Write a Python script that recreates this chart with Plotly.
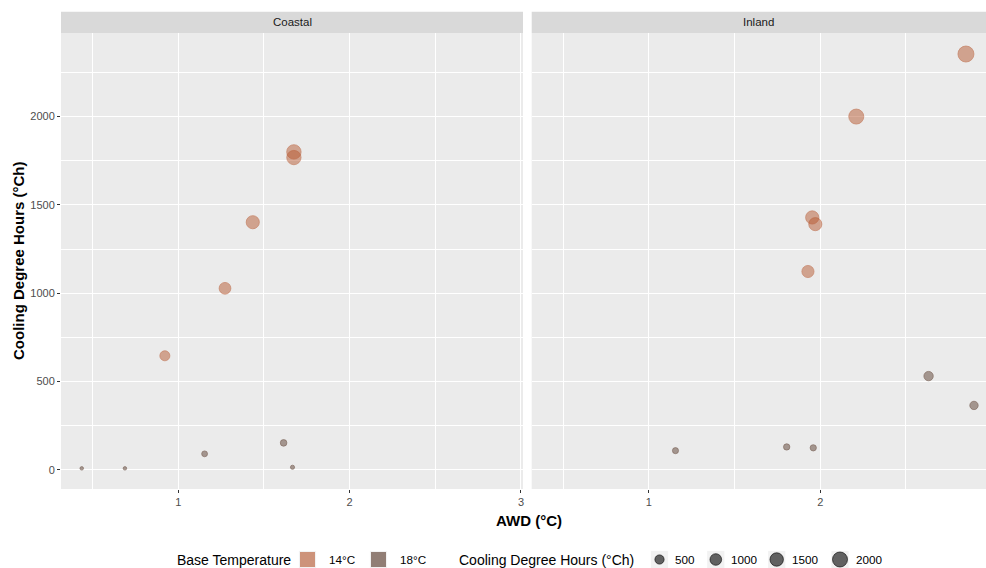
import numpy as np
import plotly.graph_objects as go

# ---------------- data ----------------
regions = ["Coastal", "Inland"]
base_temps = ["14°C", "18°C"]

coastal_14_awd = [0.922, 1.273, 1.435, 1.675, 1.675]
coastal_14_cdh = [646, 1028, 1402, 1800, 1768]
coastal_18_awd = [0.437, 0.689, 1.154, 1.615, 1.667]
coastal_18_cdh = [9, 9, 91, 153, 15]

inland_14_awd = [1.928, 1.953, 1.971, 2.210, 2.850]
inland_14_cdh = [1123, 1429, 1391, 2000, 2354]
inland_18_awd = [1.155, 1.804, 1.959, 2.632, 2.897]
inland_18_cdh = [109, 130, 125, 531, 365]

size_breaks = [500, 1000, 1500, 2000]
x_ticks = [1, 2, 3]
y_ticks = [0, 500, 1000, 1500, 2000]

# ---------------- styling ----------------
FONT = "Liberation Sans, Arial, sans-serif"
col_14 = "rgba(182,88,48,0.7)"
col_18 = "rgba(85,55,40,0.68)"
key_14 = "rgba(182,88,48,0.62)"
key_18 = "rgba(85,55,40,0.62)"
col_size = "rgba(0,0,0,0.6)"
PANEL_BG = "#EBEBEB"
STRIP_BG = "#D9D9D9"

all_cdh = coastal_14_cdh + coastal_18_cdh + inland_14_cdh + inland_18_cdh
vmin, vmax = min(all_cdh), max(all_cdh)


def diam(v):
    v = np.asarray(v, dtype=float)
    return 3.5 + 12.5 * np.sqrt(np.clip((v - vmin) / (vmax - vmin), 0, 1))


# pixel geometry of the figure
W, H = 986, 568
ML, MR, MT, MB = 61, 0, 33, 79
PW, PH = W - ML - MR, H - MT - MB


def px(x):
    return (x - ML) / PW


def py(y):
    return (H - MB - y) / PH


fig = go.Figure()

series = [
    (coastal_14_awd, coastal_14_cdh, col_14, "x", "y"),
    (coastal_18_awd, coastal_18_cdh, col_18, "x", "y"),
    (inland_14_awd, inland_14_cdh, col_14, "x2", "y2"),
    (inland_18_awd, inland_18_cdh, col_18, "x2", "y2"),
]
for xs, ys, c, xa, ya in series:
    fig.add_trace(go.Scatter(
        x=xs, y=ys, mode="markers", xaxis=xa, yaxis=ya, showlegend=False,
        marker=dict(size=diam(ys), sizemode="diameter", color=c,
                    line=dict(color=c, width=1)),
        hoverinfo="x+y",
    ))

left_dom = [0, px(523)]
right_dom = [px(531.7), 1]
x_left_range = [0.316, 3.012]
ppu = (523 - 61) / (x_left_range[1] - x_left_range[0])
x_right_range = [0.316, 0.316 + (W - 531.7) / ppu]
y_range = [-108, 2473]

axis_common = dict(
    showgrid=True, gridcolor="white", gridwidth=1.1, zeroline=False,
    showline=False, ticks="outside", ticklen=3, tickwidth=1, tickcolor="#333333",
    tickfont=dict(family=FONT, size=11, color="#4D4D4D"),
)
minor_x = dict(dtick=0.5, tick0=0, showgrid=True, gridcolor="white", gridwidth=0.55, ticks="")
minor_y = dict(dtick=250, tick0=0, showgrid=True, gridcolor="white", gridwidth=0.55, ticks="")

fig.update_layout(
    width=W, height=H,
    margin=dict(l=ML, r=MR, t=MT, b=MB),
    paper_bgcolor="white", plot_bgcolor=PANEL_BG,
    showlegend=False,
    font=dict(family=FONT),
    xaxis=dict(domain=left_dom, range=x_left_range, tickvals=x_ticks, minor=minor_x,
               anchor="y", **axis_common),
    xaxis2=dict(domain=right_dom, range=x_right_range, tickvals=x_ticks, minor=minor_x,
                anchor="y2", **axis_common),
    yaxis=dict(domain=[0, 1], range=y_range, tickvals=y_ticks, minor=minor_y,
               anchor="x", **axis_common),
    yaxis2=dict(domain=[0, 1], range=y_range, tickvals=y_ticks, showticklabels=False,
                minor=minor_y, anchor="x2", matches="y",
                **{k: v for k, v in axis_common.items() if k != "ticks"}, ticks=""),
)

shapes = []
annotations = []

# strips
strip_top, strip_bot = py(11.7), 1.0
for dom, name in zip([left_dom, right_dom], regions):
    shapes.append(dict(type="rect", xref="paper", yref="paper", x0=dom[0], x1=dom[1],
                       y0=strip_bot, y1=strip_top, fillcolor=STRIP_BG, line=dict(width=0), layer="below"))
    annotations.append(dict(text=name, xref="paper", yref="paper", x=(dom[0] + dom[1]) / 2,
                            y=(strip_bot + strip_top) / 2, showarrow=False, xanchor="center", yanchor="middle",
                            font=dict(family=FONT, size=11.5, color="#1A1A1A")))

# axis titles
annotations.append(dict(text="<b>AWD (°C)</b>", xref="paper", yref="paper", x=px(528.5), y=py(520),
                        showarrow=False, xanchor="center", yanchor="middle",
                        font=dict(family=FONT, size=15, color="black")))
annotations.append(dict(text="<b>Cooling Degree Hours (°Ch)</b>", xref="paper", yref="paper", x=px(18), y=0.5,
                        showarrow=False, xanchor="center", yanchor="middle", textangle=-90,
                        font=dict(family=FONT, size=15, color="black")))

# legend: Base Temperature
LY = 559.5
annotations.append(dict(text="Base Temperature", xref="paper", yref="paper", x=px(175), y=py(LY),
                        showarrow=False, xanchor="left", yanchor="middle",
                        font=dict(family=FONT, size=14, color="black")))
for cx, lab, c in zip([307.5, 378.5], base_temps, [key_14, key_18]):
    shapes.append(dict(type="rect", xref="paper", yref="paper", x0=px(cx - 8.6), x1=px(cx + 8.6),
                       y0=py(LY + 8.6), y1=py(LY - 8.6), fillcolor="#F2F2F2", line=dict(width=0)))
    shapes.append(dict(type="rect", xref="paper", yref="paper", x0=px(cx - 7.5), x1=px(cx + 7.5),
                       y0=py(LY + 7.5), y1=py(LY - 7.5), fillcolor=c, line=dict(width=0)))
    annotations.append(dict(text=lab, xref="paper", yref="paper", x=px(cx + 19.5), y=py(LY),
                            showarrow=False, xanchor="left", yanchor="middle",
                            font=dict(family=FONT, size=11.7, color="black")))

# legend: Cooling Degree Hours
annotations.append(dict(text="Cooling Degree Hours (°Ch)", xref="paper", yref="paper", x=px(456.5), y=py(LY),
                        showarrow=False, xanchor="left", yanchor="middle",
                        font=dict(family=FONT, size=14, color="black")))
for cx, v in zip([659.5, 715.8, 776.7, 840.0], size_breaks):
    r = float(diam(v)) / 2
    shapes.append(dict(type="rect", xref="paper", yref="paper", x0=px(cx - 8.6), x1=px(cx + 8.6),
                       y0=py(LY + 8.6), y1=py(LY - 8.6), fillcolor="#F2F2F2", line=dict(width=0)))
    shapes.append(dict(type="circle", xref="paper", yref="paper",
                       xsizemode="pixel", ysizemode="pixel", xanchor=px(cx), yanchor=py(LY),
                       x0=-r, x1=r, y0=-r, y1=r, fillcolor=col_size, line=dict(color=col_size, width=1)))
    annotations.append(dict(text=str(v), xref="paper", yref="paper", x=px(cx + 13.5), y=py(LY),
                            showarrow=False, xanchor="left", yanchor="middle",
                            font=dict(family=FONT, size=11.7, color="black")))

fig.update_layout(shapes=shapes, annotations=annotations)
fig.write_html("out.html", config={"displayModeBar": False},
               post_script="document.body.style.margin='0';document.body.style.padding='0';"
                           "document.body.style.overflow='hidden';")
